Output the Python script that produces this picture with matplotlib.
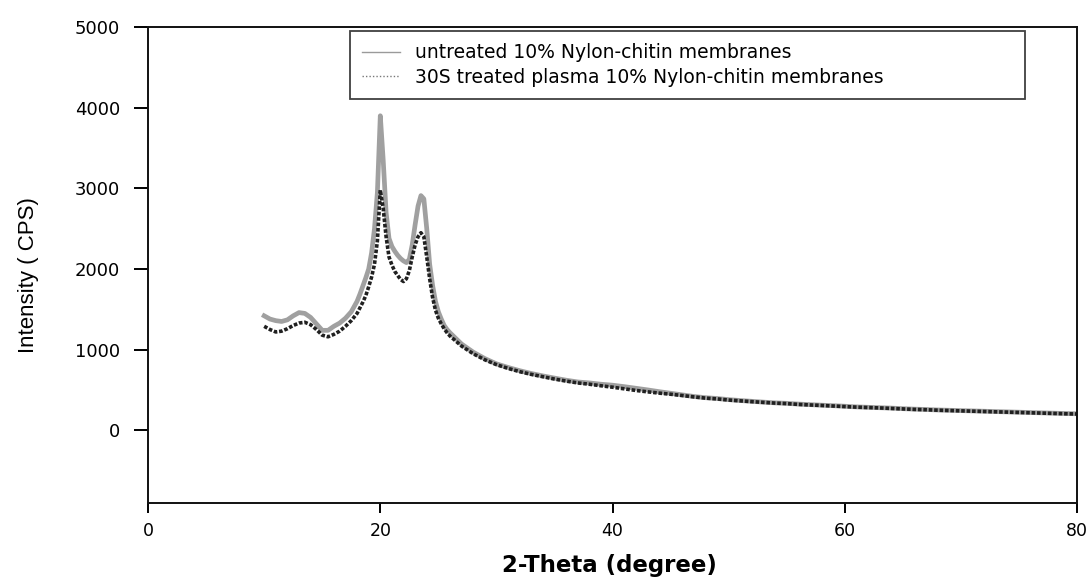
import matplotlib
matplotlib.use("Agg")
import matplotlib.pyplot as plt
from matplotlib.lines import Line2D

two_theta = [10, 10.5, 11, 11.5, 12, 12.5, 13, 13.5, 14, 14.5, 15, 15.5, 16, 16.5, 17, 17.5,
             18, 18.25, 18.5, 18.75, 19, 19.25, 19.5, 19.75, 20, 20.25, 20.5, 20.75,
             21, 21.25, 21.5, 21.75, 22, 22.25, 22.5, 22.75, 23, 23.25, 23.5, 23.75,
             24, 24.25, 24.5, 24.75, 25, 25.25, 25.5, 25.75,
             26, 27, 28, 29, 30, 31, 32, 33, 34, 35, 36, 37, 38, 39, 40, 41, 42, 43, 44, 45,
             46, 47, 48, 49, 50, 51, 52, 53, 54, 55, 56, 57, 58, 59, 60, 61, 62, 63, 64, 65,
             66, 67, 68, 69, 70, 71, 72, 73, 74, 75, 76, 77, 78, 79, 80]

untreated = [1420, 1380, 1360, 1350, 1370, 1420, 1460, 1450, 1400, 1320, 1240, 1240, 1290, 1330, 1390, 1470,
             1600, 1690, 1790, 1890, 2000, 2200, 2500, 2950, 3900, 3350, 2700, 2380,
             2280, 2220, 2170, 2130, 2100, 2080, 2120, 2300, 2550, 2780, 2910, 2870,
             2500, 2060, 1800, 1600, 1470, 1380, 1300, 1250,
             1210, 1070, 970, 890, 825, 780, 740, 705, 675, 648, 622, 600, 588, 572, 560, 542, 522, 502, 480, 460,
             440, 420, 405, 395, 381, 370, 360, 350, 341, 335, 326, 319, 312, 306, 299, 291, 286, 281, 276, 269,
             263, 259, 253, 249, 245, 241, 237, 233, 229, 225, 221, 217, 213, 209, 206]

treated = [1290, 1250, 1220, 1230, 1260, 1300, 1330, 1340, 1310, 1250, 1180, 1160, 1190, 1230, 1290, 1360,
           1450, 1520, 1590, 1670, 1780, 1900, 2060, 2350, 2980, 2750, 2400, 2150,
           2050, 1970, 1920, 1870, 1845, 1880, 1980, 2150, 2300, 2400, 2450, 2400,
           2150, 1880, 1650, 1490, 1390, 1320, 1260, 1210,
           1170, 1045, 950, 875, 815, 768, 728, 694, 665, 636, 611, 588, 572, 553, 535, 515, 495, 478, 462, 448,
           432, 415, 400, 390, 376, 366, 356, 347, 338, 332, 322, 315, 309, 302, 295, 288, 283, 278, 272, 266,
           260, 256, 250, 246, 242, 238, 234, 230, 226, 222, 218, 214, 210, 206, 203]

legend_labels = ["untreated 10% Nylon-chitin membranes",
                 "30S treated plasma 10% Nylon-chitin membranes"]
x_ticks = [0, 20, 40, 60, 80]
y_ticks = [0, 1000, 2000, 3000, 4000, 5000]

fig = plt.figure(figsize=(10.91, 5.81), dpi=100)
ax = fig.add_axes([0.1357, 0.1343, 0.8515, 0.8192])

ax.plot(two_theta, untreated, color="#a0a0a0", lw=3.4, solid_joinstyle="round")
ax.plot(two_theta, treated, color="#202020", lw=2.6, linestyle=(0, (1.0, 0.5)))

ax.set_xlim(0, 80)
ax.set_ylim(-900, 5000)
ax.set_xticks(x_ticks)
ax.set_yticks(y_ticks)
ax.set_xticklabels([str(v) for v in x_ticks],
                   fontdict={"family": ["DejaVu Sans"], "size": 12.5})
ax.set_yticklabels([str(v) for v in y_ticks],
                   fontdict={"family": ["DejaVu Sans"], "size": 13})
ax.tick_params(axis="x", direction="out", length=7, width=1.4, color="black", pad=7)
ax.tick_params(axis="y", direction="out", length=10, width=1.4, color="black", pad=10)
for s in ax.spines.values():
    s.set_linewidth(1.4)
    s.set_color("#111111")

handles = [Line2D([], [], color="#9a9a9a", lw=1.0),
           Line2D([], [], color="#777777", lw=1.0, linestyle=(0, (1, 1.5)))]
leg = ax.legend(handles, legend_labels, loc="upper left",
                bbox_to_anchor=(0.2174, 0.8445, 0.7266, 0.1471), mode="expand",
                frameon=True, fancybox=False, borderaxespad=0,
                prop={"family": ["DejaVu Sans"], "size": 13.5},
                handlelength=2.0, handletextpad=0.8, labelspacing=0.3,
                borderpad=0.65)
leg.get_frame().set_edgecolor("#111111")
leg.get_frame().set_linewidth(1.3)

fig.text(0.026, 0.527, "Intensity ( CPS)", rotation=90, ha="center", va="center",
         family=["Liberation Sans Narrow", "Liberation Sans", "DejaVu Sans"], fontsize=16)
fig.text(0.5587, 0.027, "2-Theta (degree)", ha="center", va="center",
         family=["DejaVu Sans"], fontweight="bold", fontsize=16.5)

fig.savefig("out.png", dpi=100, facecolor="white")
